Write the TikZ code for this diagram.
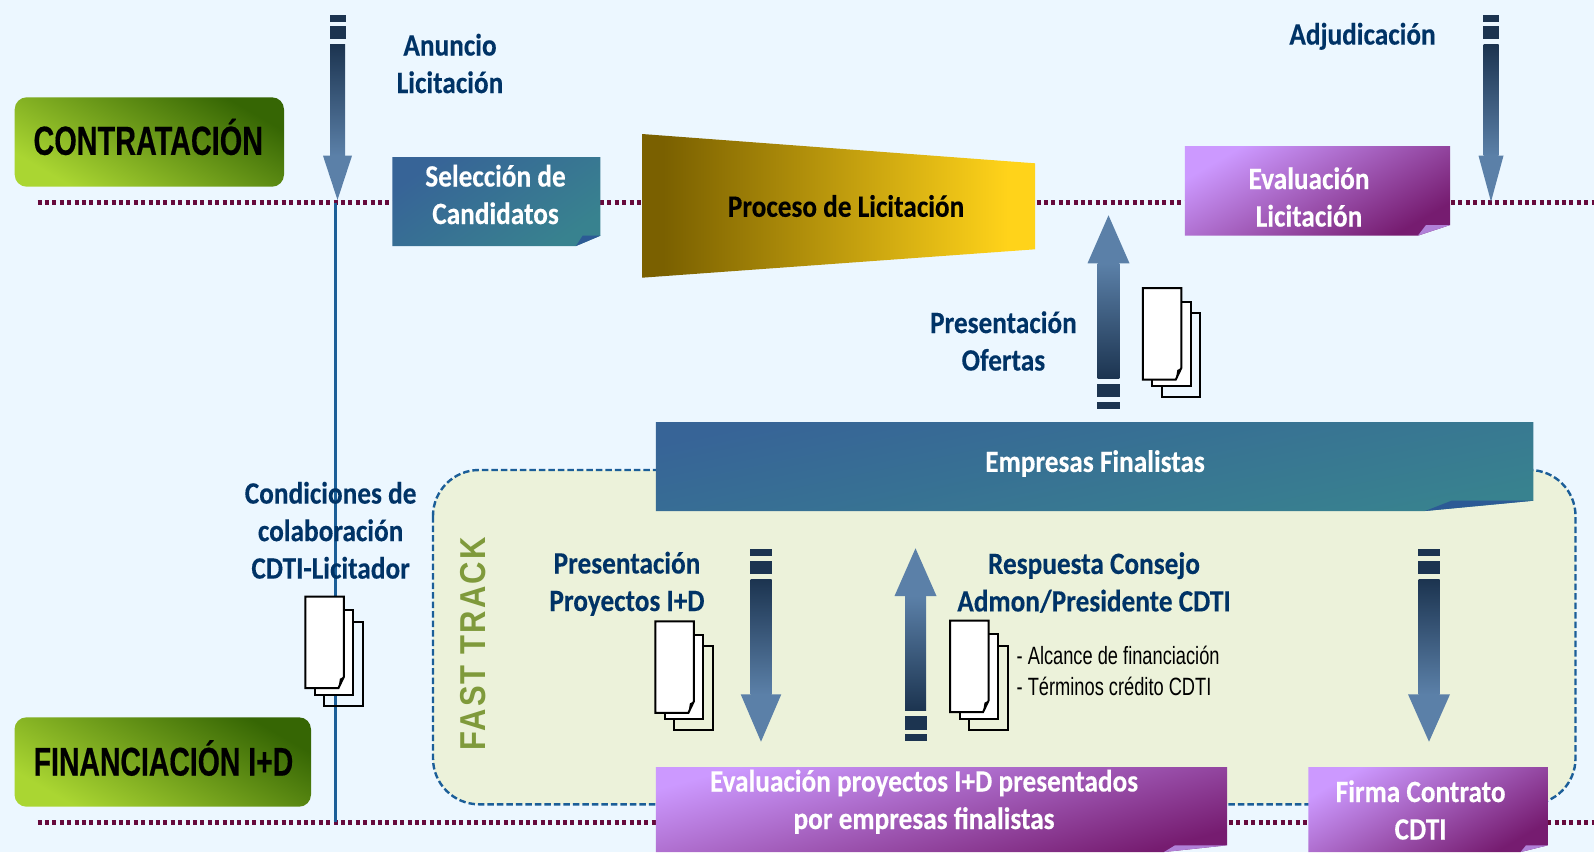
\documentclass[tikz,border=0pt]{standalone}
\usepackage{fontspec}
\newfontfamily\calb[FakeStretch=0.88,BoldFeatures={FakeBold=0.25}]{Carlito}
\newfontfamily\arn[FakeStretch=0.73]{Liberation Sans}
\newfontfamily\arh[FakeStretch=0.71,BoldFeatures={FakeBold=0.4}]{Liberation Sans}
\newfontfamily\arf[FakeStretch=0.86,LetterSpace=6]{Liberation Sans}
\definecolor{bgc}{HTML}{ECF7FF}
\definecolor{ftfill}{HTML}{ECF2DA}
\definecolor{ftline}{HTML}{1B5E98}
\definecolor{ftgreen}{HTML}{7F9A3B}
\definecolor{navy}{HTML}{003366}
\definecolor{dotc}{HTML}{660A3C}
\definecolor{vline}{HTML}{1B5E98}
\definecolor{blueA}{HTML}{376497}
\definecolor{blueB}{HTML}{38828F}
\definecolor{blueF}{HTML}{2C5A95}
\definecolor{purA}{HTML}{CC99FF}
\definecolor{purB}{HTML}{761C70}
\definecolor{purF}{HTML}{B080D8}
\definecolor{grnA}{HTML}{AAD632}
\definecolor{grnB}{HTML}{366604}
\definecolor{goldA}{HTML}{7A6000}
\definecolor{goldB}{HTML}{FFD31A}
\definecolor{arrD}{HTML}{1C3450}
\definecolor{arrL}{HTML}{5B80A8}
\pgfdeclarehorizontalshading{goldsh}{100bp}{color(0bp)=(goldA); color(27.7bp)=(goldA); color(71.5bp)=(goldB); color(100bp)=(goldB)}
\tikzset{
  dotted line/.style={dotc,line width=4.7pt,dash pattern=on 4pt off 3.4pt},
  bluebox/.style={top color=blueA,bottom color=blueB,shading angle=#1},
  purbox/.style={top color=purA,bottom color=purB,shading angle=#1},
  greenbox/.style={top color=grnA,bottom color=grnB,shading angle=150},
  navytext/.style={text=navy,font=\calb\bfseries\fontsize{31}{37.5}\selectfont,align=center,inner sep=0pt},
  whitetext/.style={text=white,font=\calb\bfseries\fontsize{31}{37.5}\selectfont,align=center,inner sep=0pt},
  blacktext/.style={text=black,font=\calb\bfseries\fontsize{31}{37.5}\selectfont,align=center,inner sep=0pt},
  headtext/.style={text=black,font=\arh\bfseries\fontsize{#1}{48}\selectfont,inner sep=0pt},
  smalltext/.style={text=black,font=\arn\fontsize{25}{31}\selectfont,align=left,inner sep=0pt},
  docsheet/.style={draw=black,line width=2pt,fill=white},
  docback/.style={draw=black,line width=2pt},
}
% #1 x1, #2 y1, #3 x2, #4 y2, #5 fold x on bottom edge, #6 fold y on right edge, #7 inner fold x, #8 body style, #9 fold colour
\newcommand\foldbox[9]{%
  \shade[#8] (#1,#2) -- (#3,#2) -- (#3,#6) -- (#5,#4) -- (#1,#4) -- cycle;
  \fill[#9] (#5,#4) -- (#7,#6) -- (#3,#6) -- cycle;
}
% #1 cx, #2 half shaft, #3 half head, #4 #5 outer segment, #6 #7 inner segment, #8 head base, #9 tip
\newcommand\blockarrow[9]{%
  \pgfmathsetmacro\shst{#7+5.5*sign(#9-#4)}
  \pgfmathsetmacro\shang{#9>#4 ? 0 : 180}
  \fill[arrD] (#1-#2-.5,#4) rectangle (#1+#2+.5,#5);
  \fill[arrD] (#1-#2-.5,#6) rectangle (#1+#2+.5,#7);
  \shade[top color=arrD,bottom color=arrL,shading angle=\shang] (#1-#2,\shst) rectangle (#1+#2,#8);
  \fill[arrL] (#1-#3,#8) -- (#1+#3,#8) -- (#1,#9) -- cycle;
}
\newcommand\docstack[2]{%
  \draw[docback] (#1+19,#2+25) rectangle (#1+57.5,#2+109);
  \draw[docsheet] (#1+9.5,#2+13.5) rectangle (#1+48,#2+98);
  \draw[docsheet] (#1,#2) -- (#1+38.5,#2) -- (#1+38.5,#2+80) -- (#1+33,#2+91.5) -- (#1,#2+91.5) -- cycle;
  \fill[black] (#1+38.5,#2+80) -- (#1+33,#2+91.5) -- (#1+34.5,#2+82) -- cycle;
}
\begin{document}
\begin{tikzpicture}[x=1pt,y=-1pt]
\useasboundingbox (0,0) rectangle (1594,852);
\fill[bgc] (0,0) rectangle (1594,852);

% fast track panel
\draw[ftline,fill=ftfill,line width=2.4pt,dash pattern=on 6.5pt off 3pt,rounded corners=46pt]
  (433,470) rectangle (1575.5,804.3);
\node[rotate=90,text=ftgreen,font=\arf\bfseries\fontsize{36}{40}\selectfont,inner sep=0pt] (fast) at (472.6,644) {FAST TRACK};

% timelines
\coordinate (cStart) at (37.5,202.7);
\coordinate (cEnd) at (1594,202.7);
\coordinate (fStart) at (37.5,822.3);
\coordinate (fEnd) at (1594,822.3);
\coordinate (vTop) at (335.3,202.7);
\coordinate (vBot) at (335.3,822.3);
\draw[dotted line] (cStart) -- (cEnd);
\draw[dotted line] (fStart) -- (fEnd);
\draw[vline,line width=2.4pt] (vTop) -- (vBot);

% left labels
\shade[greenbox,rounded corners=12pt] (14.7,97.3) rectangle (284,186.7);
\node[headtext=40.6] (contr) at (148.3,137) {CONTRATACIÓN};
\shade[greenbox,rounded corners=12pt] (14.5,717.3) rectangle (311,806.7);
\node[headtext=40] (fin) at (163.5,758) {FINANCIACIÓN I+D};

% process boxes
\foldbox{392.4}{157}{600.4}{246}{576}{235.7}{582.6}{bluebox=35}{blueF}
\node[whitetext] (sel) at (495.5,194.5) {Selección de\\Candidatos};

\shade[shading=goldsh] (642,134) -- (1035,163.3) -- (1035,249.3) -- (642,277.7) -- cycle;
\node[blacktext] (proc) at (846,206) {Proceso de Licitación};

\foldbox{1184.8}{146}{1450}{235.7}{1417.8}{225}{1426}{purbox=30}{purF}
\node[whitetext] (eval) at (1309,197) {Evaluación\\Licitación};

\foldbox{655.8}{422}{1533.4}{511}{1425}{500.7}{1451.5}{bluebox=12}{blueF}
\node[whitetext] (emp) at (1095,463.5) {Empresas Finalistas};

\foldbox{655.8}{767}{1227}{852}{1164}{845.3}{1175}{purbox=15}{purF}
\node[whitetext] (evp) at (924,801.8) {Evaluación proyectos I+D presentados\\por empresas finalistas};

\foldbox{1308.4}{767}{1547.8}{852}{1520.6}{845.3}{1526}{purbox=30}{purF}
\node[whitetext] (firma) at (1420.6,810) {Firma Contrato\\CDTI};

% block arrows
\blockarrow{337.5}{7.5}{14.5}{15}{22}{26}{39}{155.7}{200}
\blockarrow{1491}{7.5}{12.5}{15}{22}{26}{39}{155.7}{201.7}
\blockarrow{1108.5}{10.8}{21}{408.7}{402}{397}{384}{263.3}{215.3}
\blockarrow{761}{10.5}{20.3}{549}{556}{561}{574}{694.3}{741.7}
\blockarrow{915.5}{10.5}{21}{740.7}{734}{730}{716}{596}{548.3}
\blockarrow{1429}{10.5}{21}{549}{556}{561}{574}{694.3}{741.7}

% documents
\docstack{1142.8}{288}
\docstack{305.4}{596.7}
\docstack{655.4}{621.3}
\docstack{950}{620.7}

% labels
\node[navytext] (anu) at (450,63.5) {Anuncio\\Licitación};
\node[navytext] (adj) at (1362.5,36.3) {Adjudicación};
\node[navytext] (pof) at (1003.4,341) {Presentación\\Ofertas};
\node[navytext] (cond) at (330.6,530.3) {Condiciones de\\colaboración\\CDTI-Licitador};
\node[navytext] (ppr) at (627,583.8) {Presentación\\Proyectos I+D};
\node[navytext] (resp) at (1094,582.5) {Respuesta Consejo\\Admon/Presidente CDTI};
\node[smalltext,anchor=west] (alc) at (1016.5,671.2) {- Alcance de financiación\\- Términos crédito CDTI};
\end{tikzpicture}
\end{document}
